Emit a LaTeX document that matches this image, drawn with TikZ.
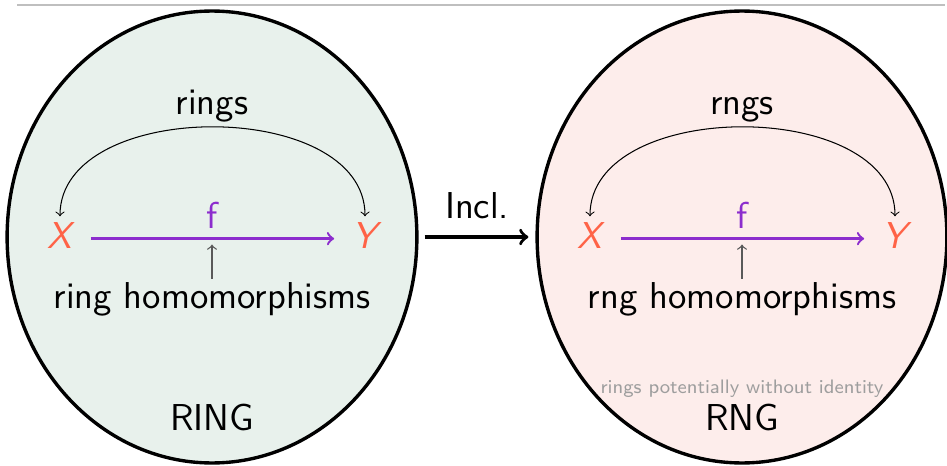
\documentclass[tikz,border=0pt]{standalone}
\usepackage{fontspec}
\renewcommand{\familydefault}{\sfdefault}
\usetikzlibrary{shapes.geometric}
\definecolor{ringbg}{RGB}{232,241,236}
\definecolor{rngbg}{RGB}{253,237,235}
\definecolor{objcol}{RGB}{255,99,71}
\definecolor{morcol}{RGB}{140,45,205}

\begin{document}
\begin{tikzpicture}[x=0.1352mm,y=-0.1352mm,
  every node/.style={font=\fontsize{14.4}{17}\selectfont},
  cat/.style={ellipse,draw,line width=1.3pt,minimum width=55.4mm,minimum height=61.1mm},
  obj/.style={text=objcol,inner sep=2pt,font=\fontsize{14.4}{17}\selectfont\itshape},
  note/.style={text=black!38,font=\fontsize{7.5}{9}\selectfont}]
\useasboundingbox (0,0) rectangle (947,466);
\draw[black!25,line width=0.6pt] (17,5) -- (945,5);
\foreach \i/\dx/\bg/\h/\H in {l/0/ringbg/ring/RING,r/530/rngbg/rng/RNG} {
  \node[cat,fill=\bg] (e\i) at ({212+\dx},237) {};
  \node[anchor=base] (c\i) at ({212+\dx},115) {\h s};
  \node[obj,anchor=base] (X\i) at ({60+\dx},248) {X};
  \node[obj,anchor=base] (Y\i) at ({365+\dx},248) {Y};
  \draw[<->,line width=0.4pt] (X\i.north) to[out=90,in=90] (Y\i.north);
  \draw[->,morcol,line width=0.9pt,shorten <=5pt,shorten >=5pt]
    ([yshift=3.6pt]X\i.base east) -- ([yshift=3.6pt]Y\i.base west)
    node[midway,above] (f\i) {f};
  \node[anchor=base,inner sep=1pt] (h\i) at ({212+\dx},308) {\h\ homomorphisms};
  \coordinate (m\i) at ({212+\dx},238);
  \draw[->,black!65,line width=0.5pt,shorten >=2.5pt] (h\i) -- (m\i);
  \node[anchor=base] (n\i) at ({212+\dx},430) {\H};
}
\node[note,anchor=base] (note) at (742,393) {rings potentially without identity};
\draw[->,line width=1.3pt,shorten <=2.3pt,shorten >=2.7pt] (el) -- (er)
  node[midway,above=3pt] (incl) {Incl.};
\end{tikzpicture}
\end{document}
